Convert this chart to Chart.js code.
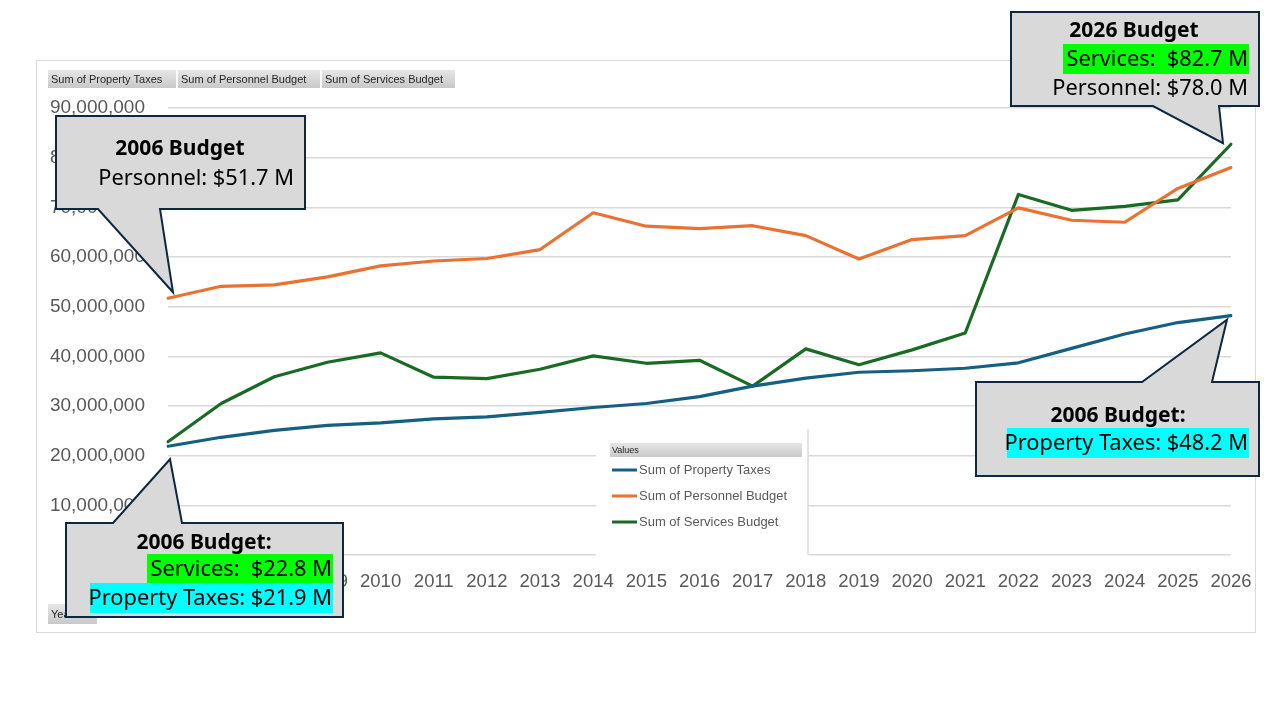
<!DOCTYPE html>
<html><head><meta charset="utf-8">
<script src="https://cdn.jsdelivr.net/npm/chart.js@4.4.1/dist/chart.umd.min.js"></script>
<style>html,body{margin:0;padding:0;background:#fff;}#wrap{width:1280px;height:720px;position:relative;}</style>
</head><body><div id="wrap"><canvas id="c" width="1280" height="720"></canvas></div>
<script>
const years = ['2006','2007','2008','2009','2010','2011','2012','2013','2014','2015','2016','2017','2018','2019','2020','2021','2022','2023','2024','2025','2026'];
const propertyTaxes = [21900000,23700000,25100000,26100000,26600000,27400000,27800000,28700000,29700000,30500000,31900000,34000000,35600000,36800000,37100000,37600000,38700000,41600000,44500000,46800000,48200000];
const personnelBudget = [51700000,54100000,54400000,56000000,58200000,59200000,59700000,61500000,68900000,66200000,65700000,66300000,64300000,59600000,63500000,64300000,69900000,67400000,67000000,73800000,78000000];
const servicesBudget = [22800000,30500000,35900000,38800000,40700000,35800000,35500000,37400000,40100000,38600000,39200000,34000000,41500000,38300000,41300000,44700000,72600000,69400000,70200000,71500000,82700000];
const seriesNames = ['Sum of Property Taxes','Sum of Personnel Budget','Sum of Services Budget'];
const seriesColors = ['#156082','#E97132','#196B24'];
const yMin = 0, yMax = 90000000, yStep = 10000000;
const fieldButtons = ['Sum of Property Taxes','Sum of Personnel Budget','Sum of Services Budget'];
const legendTitle = 'Values';
const axisButton = 'Year';

const FONT = '"Liberation Sans", Arial, sans-serif';
const CFONT = '"Noto Sans", "Liberation Sans", sans-serif';

function grayBtn(ctx, x, y, w, h, text, size) {
  const g = ctx.createLinearGradient(0, y, 0, y + h);
  g.addColorStop(0, '#e6e6e6'); g.addColorStop(1, '#c8c8c8');
  ctx.fillStyle = g; ctx.fillRect(x, y, w, h);
  ctx.fillStyle = '#262626'; ctx.font = size + 'px ' + FONT;
  ctx.textAlign = 'left'; ctx.textBaseline = 'middle';
  ctx.fillText(text, x + 3, y + h / 2 + 0.5);
}

function callout(ctx, box, pointer, lines) {
  const {L, T, R, B} = box;
  ctx.beginPath();
  if (pointer.edge === 'bottom') {
    ctx.moveTo(L, T); ctx.lineTo(R, T); ctx.lineTo(R, B);
    ctx.lineTo(pointer.b2, B); ctx.lineTo(pointer.tx, pointer.ty); ctx.lineTo(pointer.b1, B);
    ctx.lineTo(L, B);
  } else {
    ctx.moveTo(L, T); ctx.lineTo(pointer.b1, T); ctx.lineTo(pointer.tx, pointer.ty);
    ctx.lineTo(pointer.b2, T); ctx.lineTo(R, T); ctx.lineTo(R, B); ctx.lineTo(L, B);
  }
  ctx.closePath();
  ctx.fillStyle = '#d9d9d9'; ctx.fill();
  ctx.lineWidth = 2; ctx.strokeStyle = '#0e2841'; ctx.lineJoin = 'miter'; ctx.stroke();
  lines.forEach(l => {
    if (l.bg) { ctx.fillStyle = l.bg; ctx.fillRect(l.bx1, l.cy - 15, l.bx2 - l.bx1, 30); }
    ctx.font = (l.bold ? 'bold 21px ' : '21.8px ') + CFONT;
    ctx.fillStyle = '#000'; ctx.textBaseline = 'middle';
    ctx.textAlign = l.align; ctx.fillText(l.text, l.x, l.cy + 1);
  });
}

const decor = {
  id: 'decor',
  beforeDatasetsDraw(chart) {
    const ctx = chart.ctx;
    ctx.save();
    ctx.fillStyle = '#fff'; ctx.fillRect(596, 429, 212, 128);
    ctx.strokeStyle = '#d9d9d9'; ctx.lineWidth = 1.5;
    ctx.beginPath(); ctx.moveTo(808, 429); ctx.lineTo(808, 555); ctx.stroke();
    ctx.restore();
  },
  afterDraw(chart) {
    const ctx = chart.ctx;
    const xs = chart.scales.x, ys = chart.scales.y;
    ctx.save();
    ctx.strokeStyle = '#d9d9d9'; ctx.lineWidth = 1;
    ctx.strokeRect(36.5, 60.5, 1219, 572);
    grayBtn(ctx, 48, 70, 128, 18, fieldButtons[0], 11);
    grayBtn(ctx, 178, 70, 142, 18, fieldButtons[1], 11);
    grayBtn(ctx, 322, 70, 133, 18, fieldButtons[2], 11);
    const g = ctx.createLinearGradient(0, 443, 0, 458);
    g.addColorStop(0, '#e6e6e6'); g.addColorStop(1, '#c8c8c8');
    ctx.fillStyle = g; ctx.fillRect(610, 443, 192, 14);
    ctx.fillStyle = '#262626'; ctx.font = '9px ' + FONT; ctx.textAlign = 'left'; ctx.textBaseline = 'middle';
    ctx.fillText(legendTitle, 612, 450.5);
    chart.data.datasets.forEach((ds, i) => {
      const y = 470 + i * 26;
      ctx.strokeStyle = ds.borderColor; ctx.lineWidth = 3;
      ctx.beginPath(); ctx.moveTo(612, y); ctx.lineTo(637, y); ctx.stroke();
      ctx.fillStyle = '#595959'; ctx.font = '13px ' + FONT;
      ctx.fillText(ds.label, 639, y + 0.5);
    });
    grayBtn(ctx, 48, 604, 49, 20, axisButton, 11);

    const px = i => xs.getPixelForValue(i);
    callout(ctx, {L:56, T:116, R:305, B:209},
      {edge:'bottom', b1:98, b2:160, tx:px(0)+5, ty:ys.getPixelForValue(personnelBudget[0])-6},
      [{text:'2006 Budget', bold:true, align:'center', x:180, cy:148},
       {text:'Personnel: $51.7 M', align:'right', x:294, cy:178}]);
    callout(ctx, {L:1011, T:12, R:1259, B:106},
      {edge:'bottom', b1:1153, b2:1219, tx:px(20)-8, ty:ys.getPixelForValue(servicesBudget[20])-1},
      [{text:'2026 Budget', bold:true, align:'center', x:1134, cy:30},
       {text:'Services:  $82.7 M', align:'right', x:1248, cy:59, bg:'#00ff00', bx1:1063, bx2:1249},
       {text:'Personnel: $78.0 M', align:'right', x:1248, cy:88}]);
    callout(ctx, {L:976, T:382, R:1259, B:476},
      {edge:'top', b1:1142, b2:1212, tx:px(20)-4, ty:ys.getPixelForValue(propertyTaxes[20])+4},
      [{text:'2006 Budget:', bold:true, align:'center', x:1118, cy:415},
       {text:'Property Taxes: $48.2 M', align:'right', x:1248, cy:443, bg:'#00ffff', bx1:1007, bx2:1249}]);
    callout(ctx, {L:66, T:523, R:343, B:617},
      {edge:'top', b1:113, b2:182, tx:px(0)+2, ty:ys.getPixelForValue(propertyTaxes[0])+13},
      [{text:'2006 Budget:', bold:true, align:'center', x:204, cy:542},
       {text:'Services:  $22.8 M', align:'right', x:332, cy:569, bg:'#00ff00', bx1:147, bx2:333},
       {text:'Property Taxes: $21.9 M', align:'right', x:332, cy:598, bg:'#00ffff', bx1:90, bx2:333}]);
    ctx.restore();
  }
};

new Chart(document.getElementById('c'), {
  type: 'line',
  data: {
    labels: years,
    datasets: [
      {label: seriesNames[0], data: propertyTaxes, borderColor: seriesColors[0]},
      {label: seriesNames[1], data: personnelBudget, borderColor: seriesColors[1]},
      {label: seriesNames[2], data: servicesBudget, borderColor: seriesColors[2]}
    ].map(d => Object.assign(d, {borderWidth: 3.2, pointRadius: 0, tension: 0, fill: false, borderJoinStyle: 'round', borderCapStyle: 'round'}))
  },
  options: {
    responsive: false, animation: false, devicePixelRatio: 1,
    layout: {padding: {top: 108, right: 49, left: 0, bottom: 0}},
    plugins: {legend: {display: false}, tooltip: {enabled: false}},
    scales: {
      x: {
        offset: false,
        grid: {display: false, drawTicks: false},
        border: {display: false},
        ticks: {font: {family: FONT, size: 18.5}, color: '#595959', padding: 16, maxRotation: 0, autoSkip: false},
        afterFit(s) { s.height = 165; }
      },
      y: {
        min: yMin, max: yMax,
        grid: {color: '#d9d9d9', lineWidth: 1.5, drawTicks: false},
        border: {display: false},
        ticks: {stepSize: yStep, font: {family: FONT, size: 19}, color: '#595959', padding: 23,
          callback: v => Number(v).toLocaleString('en-US')},
        afterFit(s) { s.width = 168; }
      }
    }
  },
  plugins: [decor]
});
</script></body></html>
